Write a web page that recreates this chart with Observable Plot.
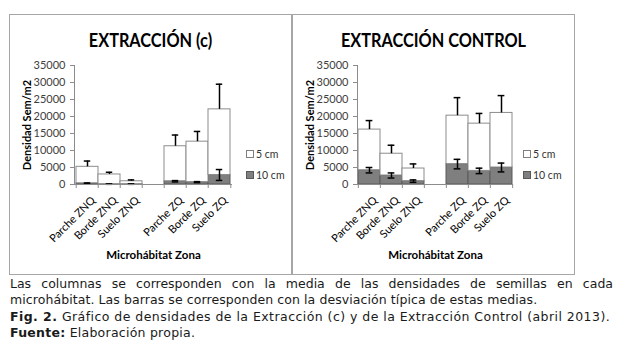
<!DOCTYPE html>
<html>
<head>
<meta charset="utf-8">
<script src="https://cdn.jsdelivr.net/npm/d3@7"></script>
<script src="https://cdn.jsdelivr.net/npm/@observablehq/plot@0.6"></script>
<style>
  html, body { margin: 0; padding: 0; background: #fff; }
  #wrap { position: relative; width: 626px; height: 355px; overflow: hidden; background: #fff; }
  .panel { position: absolute; top: 14px; width: 281px; height: 259px; border: 1px solid #a6a6a6; background: #fff; }
  .panel svg { position: absolute; left: 0; top: 0; }
  .title { position: absolute; left: 0; width: 100%; top: 14px; text-align: center;
           font-family: Lato, "Open Sans", sans-serif; font-weight: bold; font-size: 18.5px; color: #000;
           transform: scaleX(0.88); transform-origin: center; white-space: nowrap; }
  .legend { position: absolute; font-family: Lato, sans-serif; font-size: 10.5px; color: #333; }
  .legend div { position: relative; height: 12px; margin-bottom: 9px; white-space: nowrap; }
  .legend span.sw { display: inline-block; width: 6px; height: 6px; border: 1px solid #7f7f7f; margin-right: 2px; vertical-align: 0px; }
  #caption { position: absolute; left: 10px; top: 276px; width: 603px; font-family: "DejaVu Sans", Verdana, sans-serif; font-size: 12.5px; line-height: 16.4px; color: #1a1a1a; white-space: nowrap; }
  #caption .j { text-align: justify; text-align-last: justify; }
</style>
</head>
<body>
<div id="wrap">
  <div class="panel" id="p1" style="left:9px;">
    <div class="title">EXTRACCIÓN (c)</div>
    <div class="legend" style="left:236px; top:133px;">
      <div><span class="sw" style="background:#fff"></span>5 cm</div>
      <div><span class="sw" style="background:#7f7f7f;border-color:#595959"></span>10 cm</div>
    </div>
  </div>
  <div class="panel" id="p2" style="left:292px;">
    <div class="title">EXTRACCIÓN CONTROL</div>
    <div class="legend" style="left:230px; top:133px;">
      <div><span class="sw" style="background:#fff"></span>5 cm</div>
      <div><span class="sw" style="background:#7f7f7f;border-color:#595959"></span>10 cm</div>
    </div>
  </div>
  <div id="caption">
    <div class="j">Las columnas se corresponden con la media de las densidades de semillas en cada</div>
    <div style="letter-spacing:0.08px">microhábitat. Las barras se corresponden con la desviación típica de estas medias.</div>
    <div style="letter-spacing:0.45px"><b>Fig. 2.</b> Gráfico de densidades de la Extracción (c) y de la Extracción Control (abril 2013).</div>
    <div style="letter-spacing:0.25px"><b>Fuente:</b> Elaboración propia.</div>
  </div>
</div>
<script>
// Categories (a blank slot separates the ZNQ and ZQ groups)
const categories = ["Parche ZNQ", "Borde ZNQ", "Suelo ZNQ", " ", "Parche ZQ", "Borde ZQ", "Suelo ZQ"];
const groups = ["Parche ZNQ", "Borde ZNQ", "Suelo ZNQ", "Parche ZQ", "Borde ZQ", "Suelo ZQ"];
const yTicks = [0, 5000, 10000, 15000, 20000, 25000, 30000, 35000];

// EXTRACCIÓN (c)
const extC_10cm    = [350, 100, 100, 950, 700, 2800];
const extC_5cm     = [4850, 2850, 850, 10300, 11900, 19300];
const extC_sd10cm  = [100, 50, 50, 200, 150, 1600];
const extC_sd5cm   = [1700, 650, 400, 3300, 3000, 7400];

// EXTRACCIÓN CONTROL
const ctrl_10cm    = [4200, 2650, 1000, 6000, 4000, 5000];
const ctrl_5cm     = [11950, 6400, 3700, 14250, 13900, 16050];
const ctrl_sd10cm  = [800, 750, 350, 1400, 800, 1300];
const ctrl_sd5cm   = [2650, 2500, 1350, 5300, 3000, 5100];

const FONT = 'Lato, "Open Sans", sans-serif';

function makeChart(v10, v5, sd10, sd5, mRight) {
  const W = 281, H = 259, mLeft = 64;
  const bw = (W - mLeft - mRight) / categories.length;
  const rows = groups.map((g, i) => ({
    g, v10: v10[i], top: v10[i] + v5[i], sd10: sd10[i], sd5: sd5[i]
  }));
  const capInset = (bw - 7) / 2;
  return Plot.plot({
    width: W, height: H,
    marginLeft: mLeft, marginRight: mRight, marginTop: 50, marginBottom: 90,
    style: { fontFamily: FONT, background: "transparent", overflow: "visible" },
    x: { domain: categories, padding: 0, label: null },
    y: { domain: [0, 35000], label: null },
    marks: [
      Plot.barY(rows, { x: "g", y1: 0, y2: "v10", fill: "#7f7f7f", stroke: "#5a5a5a", strokeWidth: 1 }),
      Plot.barY(rows, { x: "g", y1: "v10", y2: "top", fill: "#ffffff", stroke: "#8c8c8c", strokeWidth: 1 }),
      // 5 cm error bars (plus direction)
      Plot.ruleX(rows, { x: "g", y1: "top", y2: d => d.top + d.sd5, stroke: "#000", strokeWidth: 1.5 }),
      Plot.tickY(rows, { x: "g", y: d => d.top + d.sd5, insetLeft: capInset, insetRight: capInset, stroke: "#000", strokeWidth: 1.5 }),
      // 10 cm error bars (both directions)
      Plot.ruleX(rows, { x: "g", y1: d => d.v10 - d.sd10, y2: d => d.v10 + d.sd10, stroke: "#000", strokeWidth: 1.5 }),
      Plot.tickY(rows, { x: "g", y: d => d.v10 + d.sd10, insetLeft: capInset, insetRight: capInset, stroke: "#000", strokeWidth: 1.5 }),
      Plot.tickY(rows, { x: "g", y: d => d.v10 - d.sd10, insetLeft: capInset, insetRight: capInset, stroke: "#000", strokeWidth: 1.5 }),
      // axes
      Plot.frame({ anchor: "left", stroke: "#8c8c8c" }),
      Plot.ruleY([0], { stroke: "#8c8c8c" }),
      Plot.axisY({ ticks: yTicks, tickSize: 4, tickPadding: 5, stroke: "#8c8c8c", fill: "#404040",
                   fontSize: 11, tickFormat: d => String(d), label: null }),
      Plot.axisX({ tickSize: 4, stroke: "#8c8c8c", tickFormat: () => "", dx: -bw / 2, label: null }),
      Plot.axisX({ ticks: [categories[categories.length - 1]], tickSize: 4, stroke: "#8c8c8c", tickFormat: () => "", dx: bw / 2, label: null }),
      Plot.axisX({ tickSize: 0, tickPadding: 14, tickRotate: -45, fontSize: 11, fill: "#000",
                   tickFormat: d => d.trim(), label: null, dx: 6 }),
      Plot.text(["Densidad Sem/m2"], { frameAnchor: "left", textAnchor: "middle", rotate: -90, dx: -47, fontWeight: "bold", fontSize: 11, fill: "#000" }),
      Plot.text(["Microhábitat Zona"], { frameAnchor: "bottom", lineAnchor: "middle", dy: 71, fontWeight: "bold", fontSize: 11.5, fill: "#000" })
    ]
  });
}

document.getElementById("p1").prepend(makeChart(extC_10cm, extC_5cm, extC_sd10cm, extC_sd5cm, 59));
document.getElementById("p2").prepend(makeChart(ctrl_10cm, ctrl_5cm, ctrl_sd10cm, ctrl_sd5cm, 61));
</script>
</body>
</html>
